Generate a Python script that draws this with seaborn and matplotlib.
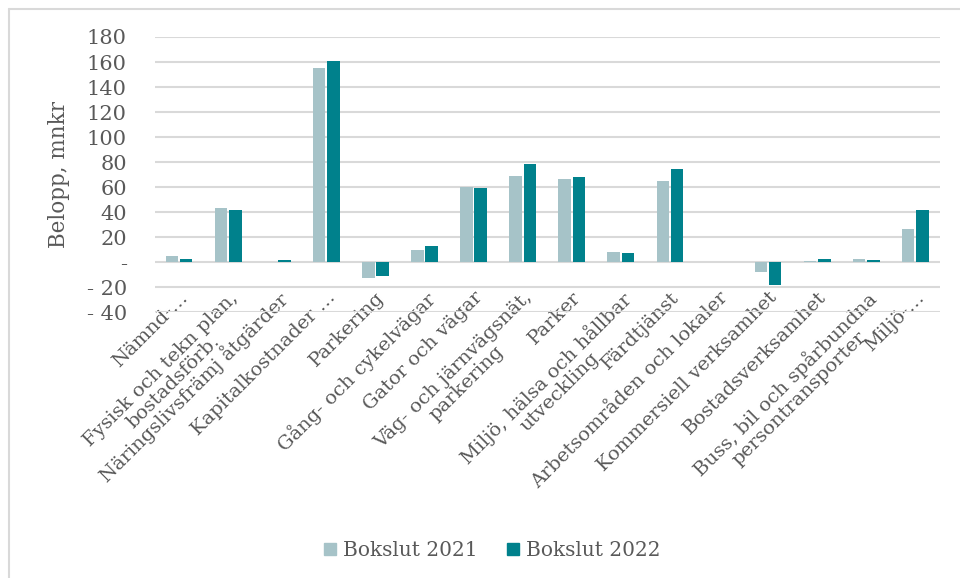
import matplotlib.pyplot as plt
import matplotlib.ticker as mticker
import pandas as pd
import seaborn as sns
from matplotlib.lines import Line2D

categories = [
    "Nämnd-…",
    "Fysisk och tekn plan,\nbostadsförb.",
    "Näringslivsfrämj åtgärder",
    "Kapitalkostnader …",
    "Parkering",
    "Gång- och cykelvägar",
    "Gator och vägar",
    "Väg- och järnvägsnät,\nparkering",
    "Parker",
    "Miljö, hälsa och hållbar\nutveckling",
    "Färdtjänst",
    "Arbetsområden och lokaler",
    "Kommersiell verksamhet",
    "Bostadsverksamhet",
    "Buss, bil och spårbundna\npersontransporter",
    "Miljö-…",
]
bokslut_2021 = [4.5, 43, 0, 155, -13, 10, 60, 68.5, 66.7, 8.3, 65, 0, -7.7, 1, 2.7, 26.7]
bokslut_2022 = [2.1, 42, 1.3, 160.5, -11.5, 12.5, 59, 78.8, 68.3, 7.5, 74.7, 0, -18, 2.7, 1.9, 42]
series_names = ["Bokslut 2021", "Bokslut 2022"]
y_ticks = [-40, -20, 0, 20, 40, 60, 80, 100, 120, 140, 160, 180]

colors = ["#a6c3c8", "#00818c"]
text_color = "#595959"

df = pd.DataFrame({
    "Kategori": categories * 2,
    "Serie": [series_names[0]] * len(categories) + [series_names[1]] * len(categories),
    "Belopp": bokslut_2021 + bokslut_2022,
})

sns.set_theme(style="white")
plt.rcParams["font.family"] = ["DejaVu Serif"]

fig = plt.figure(figsize=(9.6, 5.78), dpi=100)
ax = fig.add_axes([0.161, 0.460, 0.818, 0.476])

sns.barplot(
    data=df, x="Kategori", y="Belopp", hue="Serie",
    palette=colors, width=0.58, gap=0.12, ax=ax, legend=False,
    saturation=1, linewidth=0,
)

ax.set_ylim(-40, 180)
ax.set_xlim(-0.5, len(categories) - 0.5)
ax.yaxis.set_major_locator(mticker.FixedLocator(y_ticks))


def fmt(v, pos):
    if v == 0:
        return "-"
    if v < 0:
        return f"- {abs(int(v))}"
    return f"{int(v)}"


ax.yaxis.set_major_formatter(mticker.FuncFormatter(fmt))
ax.grid(axis="y", color="#d9d9d9", linewidth=1.5)
ax.set_axisbelow(True)
for s in ax.spines.values():
    s.set_visible(False)

ax.tick_params(axis="y", labelsize=15, colors=text_color, length=0, pad=20)
ax.tick_params(axis="x", length=0, pad=-17)
ax.set_xticks(range(len(categories)))
ax.set_xticklabels(categories, rotation=45, ha="right", va="top",
                   rotation_mode="anchor", fontsize=14, color=text_color,
                   multialignment="center", linespacing=1.0)
ax.set_xlabel("")
ax.set_ylabel("Belopp, mnkr", fontsize=15.5, color=text_color, labelpad=12)

handles = [
    Line2D([], [], marker="s", linestyle="", markersize=9,
           markerfacecolor=c, markeredgecolor=c)
    for c in colors
]
fig.legend(handles, series_names, loc="center", bbox_to_anchor=(0.512, 0.047),
           ncol=2, frameon=False, fontsize=14.5, labelcolor=text_color,
           handlelength=0.7, handletextpad=0.3, columnspacing=1.4)

# chart area border (top and left edges visible)
fig.add_artist(Line2D([9 / 960, 9 / 960], [0, 1 - 9 / 578],
                      transform=fig.transFigure, color="#d9d9d9", linewidth=1.5))
fig.add_artist(Line2D([9 / 960, 1], [1 - 9 / 578, 1 - 9 / 578],
                      transform=fig.transFigure, color="#d9d9d9", linewidth=1.5))

fig.savefig("out.png", dpi=100, facecolor="white")
